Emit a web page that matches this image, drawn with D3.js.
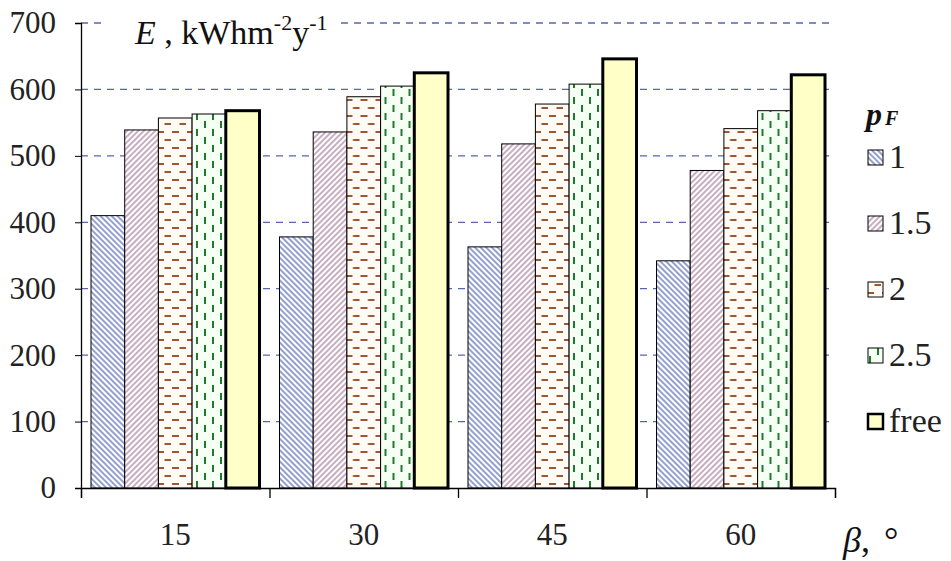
<!DOCTYPE html>
<html>
<head>
<meta charset="utf-8">
<script src="https://cdn.jsdelivr.net/npm/d3@7"></script>
<style>
body { margin: 0; background: #fff; }
svg text { font-family: "Times New Roman", "Liberation Serif", "DejaVu Serif", serif; }
</style>
</head>
<body>
<svg id="chart" width="951" height="561"></svg>
<script>
// tilt angles (groups) and p_F series
var angles = ["15", "30", "45", "60"];
var series = ["1", "1.5", "2", "2.5", "free"];

// E values, kWh m^-2 y^-1, one array per series
var pf1 = [410, 378, 363, 342];
var pf15 = [539, 536, 518, 478];
var pf2 = [557, 589, 578, 541];
var pf25 = [563, 605, 608, 568];
var pfFree = [568, 625, 646, 622];

var yTicks = [0, 100, 200, 300, 400, 500, 600, 700];

var values = [pf1, pf15, pf2, pf25, pfFree];
var data = angles.map(function (a, i) {
    return {angle: a, vals: series.map(function (s, j) { return {key: s, value: values[j][i]}; })};
});

var svg = d3.select("#chart");
var mLeft = 81, mRight = 835, mTop = 23, mBottom = 488;

var y = d3.scaleLinear().domain([0, 700]).range([mBottom, mTop]);
var x0 = d3.scaleBand().domain(angles).range([mLeft, mRight]).padding(0);
var x1 = d3.scaleBand().domain(series).range([10, x0.bandwidth() - 10]).padding(0);
var xb = d3.scaleLinear().domain([0, angles.length]).range([mLeft, mRight]);

// patterns
var defs = svg.append("defs");

var p = defs.append("pattern").attr("id", "pat1").attr("patternUnits", "userSpaceOnUse")
    .attr("width", 4).attr("height", 4).attr("patternTransform", "rotate(-45)");
p.append("rect").attr("width", 4).attr("height", 4).attr("fill", "#fff");
p.append("line").attr("x1", 1).attr("y1", 0).attr("x2", 1).attr("y2", 4)
    .attr("stroke", "#3a52a8").attr("stroke-width", 1.1);

p = defs.append("pattern").attr("id", "pat15").attr("patternUnits", "userSpaceOnUse")
    .attr("width", 4).attr("height", 4).attr("patternTransform", "rotate(45)");
p.append("rect").attr("width", 4).attr("height", 4).attr("fill", "#fff");
p.append("line").attr("x1", 1).attr("y1", 0).attr("x2", 1).attr("y2", 4)
    .attr("stroke", "#9a6a8c").attr("stroke-width", 1.1);

p = defs.append("pattern").attr("id", "pat2").attr("patternUnits", "userSpaceOnUse")
    .attr("width", 15).attr("height", 16);
p.append("rect").attr("width", 15).attr("height", 16).attr("fill", "#fffaf4");
p.append("rect").attr("x", 1).attr("y", 3).attr("width", 7).attr("height", 2).attr("fill", "#9a5834");
p.append("rect").attr("x", 8.5).attr("y", 11).attr("width", 7).attr("height", 2).attr("fill", "#9a5834");

p = defs.append("pattern").attr("id", "pat25").attr("patternUnits", "userSpaceOnUse")
    .attr("width", 16).attr("height", 16);
p.append("rect").attr("width", 16).attr("height", 16).attr("fill", "#f6fff4");
p.append("rect").attr("x", 3).attr("y", 1).attr("width", 2).attr("height", 7).attr("fill", "#1f7a30");
p.append("rect").attr("x", 11).attr("y", 9).attr("width", 2).attr("height", 7).attr("fill", "#1f7a30");

var fills = {"1": "url(#pat1)", "1.5": "url(#pat15)", "2": "url(#pat2)", "2.5": "url(#pat25)", "free": "#ffffc8"};
var widths = {"1": 1, "1.5": 1, "2": 1, "2.5": 1, "free": 3};

// grid
svg.append("g").selectAll("line")
    .data(yTicks.filter(function (d) { return d > 0; }))
    .enter().append("line")
    .attr("x1", mLeft).attr("x2", mRight)
    .attr("y1", function (d) { return y(d); }).attr("y2", function (d) { return y(d); })
    .attr("stroke", "#5866b0").attr("stroke-width", 1.3)
    .attr("stroke-dasharray", "7,6");

// bars
var groups = svg.append("g").selectAll("g")
    .data(data).enter().append("g")
    .attr("transform", function (d) { return "translate(" + x0(d.angle) + ",0)"; });

groups.selectAll("rect")
    .data(function (d) { return d.vals; })
    .enter().append("rect")
    .attr("x", function (d) { return x1(d.key); })
    .attr("width", x1.bandwidth())
    .attr("y", function (d) { return y(d.value); })
    .attr("height", function (d) { return y(0) - y(d.value); })
    .attr("fill", function (d) { return fills[d.key]; })
    .attr("stroke", "#000")
    .attr("stroke-width", function (d) { return widths[d.key]; });

// y axis
var yAxis = svg.append("g")
    .attr("transform", "translate(" + mLeft + ",0)")
    .call(d3.axisLeft(y).tickValues(yTicks).tickSize(6).tickPadding(19));
yAxis.attr("font-family", null).attr("font-size", 31);
yAxis.selectAll("text").attr("fill", "#222");
yAxis.select(".domain").attr("stroke-width", 1.3);

// x axis: boundary ticks and group labels
var xAxis = svg.append("g")
    .attr("transform", "translate(0," + mBottom + ")")
    .call(d3.axisBottom(xb).ticks(angles.length).tickSize(10).tickFormat(""));
xAxis.select(".domain").attr("stroke-width", 1.3);
xAxis.selectAll("line").attr("stroke-width", 1.3);

var xLab = svg.append("g")
    .attr("transform", "translate(0," + mBottom + ")")
    .call(d3.axisBottom(x0).tickSize(0).tickPadding(35));
xLab.attr("font-family", null).attr("font-size", 31);
xLab.select(".domain").remove();
xLab.selectAll("text").attr("fill", "#222");

// y title with white backing
svg.append("rect").attr("x", 104).attr("y", 4).attr("width", 234).attr("height", 40).attr("fill", "#fff");
var yt = svg.append("text").attr("x", 135).attr("y", 44).attr("font-size", 34).attr("fill", "#111");
yt.append("tspan").attr("font-style", "italic").text("E");
yt.append("tspan").text(" , kWhm");
yt.append("tspan").attr("font-size", 22).attr("dy", -14).text("-2");
yt.append("tspan").attr("dy", 14).text("y");
yt.append("tspan").attr("font-size", 22).attr("dy", -14).text("-1");

// x title
var xt = svg.append("text").attr("x", 843).attr("y", 552).attr("font-size", 36).attr("fill", "#111");
xt.append("tspan").attr("font-style", "italic").text("β");
xt.append("tspan").text(",");
xt.append("tspan").attr("x", 884).text("°");

// legend
var lg = svg.append("g").attr("transform", "translate(866,0)");
var lt = lg.append("text").attr("x", 0).attr("y", 125).attr("font-weight", "bold")
    .attr("font-style", "italic").attr("fill", "#111");
lt.append("tspan").attr("font-size", 32).text("p");
lt.append("tspan").attr("font-size", 20).attr("dx", 3).text("F");

var ly = d3.scalePoint().domain(series).range([157, 421]);
var items = lg.selectAll("g.item").data(series).enter().append("g").attr("class", "item")
    .attr("transform", function (d) { return "translate(0," + ly(d) + ")"; });
items.append("rect")
    .attr("x", 2).attr("y", -7).attr("width", 15).attr("height", 15)
    .attr("fill", function (d) { return fills[d]; })
    .attr("stroke", "#000")
    .attr("stroke-width", function (d) { return d === "free" ? 2.5 : 1; });
items.append("text").attr("x", 23).attr("y", 11).attr("font-size", 34).attr("fill", "#222")
    .text(function (d) { return d; });
</script>
</body>
</html>
